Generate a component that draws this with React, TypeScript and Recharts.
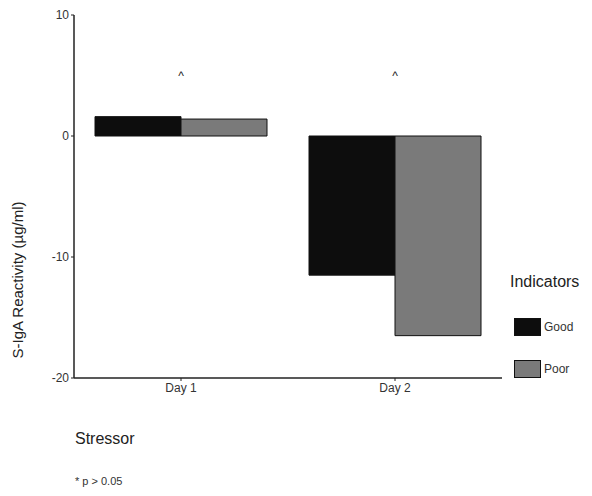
import { BarChart, Bar, XAxis, YAxis, ReferenceDot } from 'recharts'

const days = ['Day 1', 'Day 2']
const good = [1.6, -11.5]
const poor = [1.4, -16.5]
const marks = ['^', '^']
const markLevel = 5.0

const yTicks = [-20, -10, 0, 10]

const data = days.map((day, i) => ({ day, good: good[i], poor: poor[i] }))

const FONT = '"Liberation Sans", Arial, sans-serif'

const series = [
  { key: 'good', name: 'Good', color: '#0d0d0d' },
  { key: 'poor', name: 'Poor', color: '#7a7a7a' },
]

function IndicatorLegend() {
  return (
    <div style={{ position: 'absolute', left: 514, top: 273, width: 78, fontFamily: FONT, color: '#222' }}>
      <div style={{ fontSize: 16, marginBottom: 27, marginLeft: -4 }}>Indicators</div>
      {series.map((it, i) => (
        <div key={it.name} style={{ display: 'flex', alignItems: 'center', height: 18, marginBottom: i === 0 ? 24 : 0 }}>
          <div
            style={{
              width: 25,
              height: 16,
              background: it.color,
              border: '1px solid #111',
              marginRight: 3,
            }}
          />
          <span style={{ fontSize: 12, color: '#333' }}>{it.name}</span>
        </div>
      ))}
    </div>
  )
}

export default function App() {
  return (
    <div style={{ position: 'absolute', left: 0, top: 0, width: 592, height: 496, background: '#fff' }}>
      <BarChart
        width={592}
        height={496}
        data={data}
        margin={{ top: 15, right: 90, bottom: 88, left: 34 }}
        barCategoryGap={21}
        barGap={0}
      >
        <XAxis
          dataKey="day"
          axisLine={{ stroke: '#222', strokeWidth: 1.5 }}
          tickLine={{ stroke: '#222' }}
          tickSize={3}
          tick={{ fill: '#333', fontSize: 12, fontFamily: FONT }}
          height={30}
        />
        <YAxis
          domain={[-20, 10]}
          ticks={yTicks}
          width={40}
          axisLine={{ stroke: '#222', strokeWidth: 1.5 }}
          tickLine={{ stroke: '#222' }}
          tickSize={3}
          tick={{ fill: '#333', fontSize: 12, fontFamily: FONT }}
          allowDataOverflow
        />
        {series.map((s) => (
          <Bar
            key={s.key}
            dataKey={s.key}
            name={s.name}
            fill={s.color}
            stroke="#111"
            strokeWidth={1}
            isAnimationActive={false}
          />
        ))}
        {days.map((d, i) => (
          <ReferenceDot
            key={d}
            x={d}
            y={markLevel}
            r={0}
            ifOverflow="visible"
            label={{ value: marks[i], position: 'center', fontSize: 12, fill: '#222', fontFamily: FONT }}
          />
        ))}
      </BarChart>
      <IndicatorLegend />
      <div
        style={{
          position: 'absolute',
          left: 17,
          top: 280,
          transform: 'translate(-50%, -50%) rotate(-90deg)',
          whiteSpace: 'nowrap',
          fontFamily: FONT,
          fontSize: 15,
          color: '#222',
        }}
      >
        S-IgA Reactivity (µg/ml)
      </div>
      <div style={{ position: 'absolute', left: 75, top: 430, fontFamily: FONT, fontSize: 16, color: '#222' }}>
        Stressor
      </div>
      <div style={{ position: 'absolute', left: 75, top: 475, fontFamily: FONT, fontSize: 11, color: '#333' }}>
        * p &gt; 0.05
      </div>
    </div>
  )
}
